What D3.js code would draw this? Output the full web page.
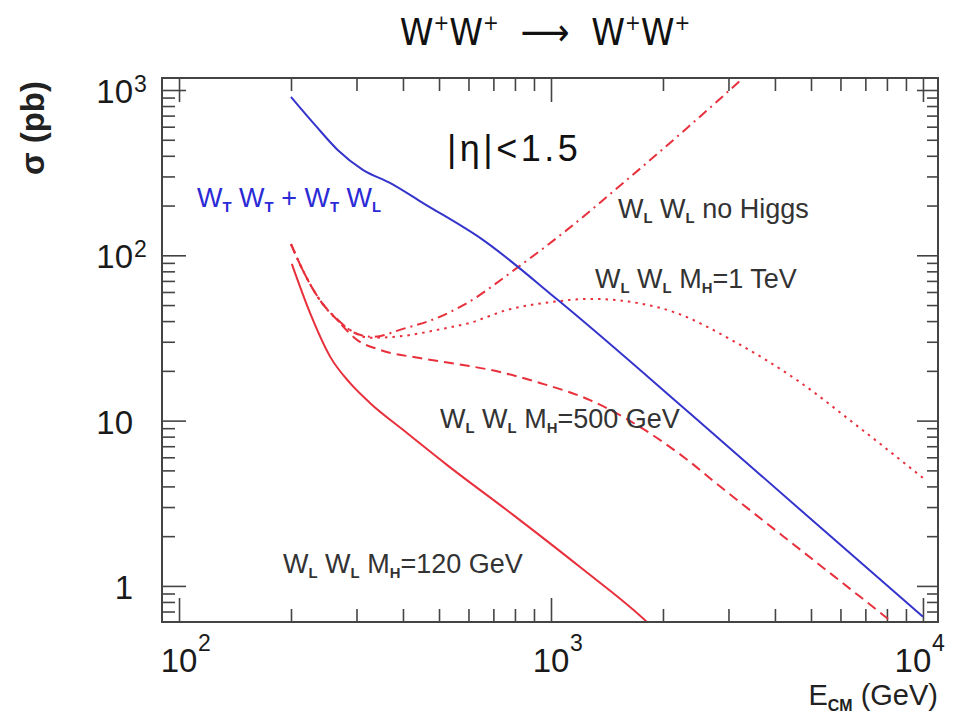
<!DOCTYPE html>
<html>
<head>
<meta charset="utf-8">
<script src="https://cdn.jsdelivr.net/npm/d3@7"></script>
<style>
  body { margin: 0; background: #fff; }
  text { font-family: "Liberation Sans", Arial, sans-serif; white-space: pre; }
</style>
</head>
<body>
<svg width="975" height="717"></svg>
<script>
// cross sections: [E_CM in GeV, sigma in pb]
const wtwt = [[200, 908], [232, 615], [267, 434], [312, 329], [369, 274], [453, 207],
  [656, 124], [1040, 54], [2370, 11], [4670, 2.9], [10000, 0.65]];
const mh120 = [[201, 88.7], [225, 44.8], [255, 24.3], [288, 16.9], [326, 12.8],
  [400, 8.8], [525, 5.4], [791, 2.69], [1197, 1.30], [1811, 0.605], [1965, 0.506]];
const mh500 = [[200, 117], [215, 81.6], [239, 53.7], [266, 40.7], [301, 30.8], [347, 26.8],
  [444, 23.9], [580, 21.7], [685, 20.3], [934, 16.9], [1273, 13.3], [1734, 9.16],
  [2323, 5.8], [2794, 4.14], [4207, 2.0], [6368, 0.96], [7798, 0.67], [8680, 0.55]];
const mh1000 = [[200, 117], [215, 81.6], [239, 53.7], [266, 40.7], [288, 35.4], [326, 31.7],
  [400, 32.5], [494, 35.4], [605, 39.0], [762, 46.7], [1012, 52.3], [1273, 54.5],
  [1562, 53], [2130, 45.5], [3126, 29.9], [4582, 17.6], [6776, 9.0], [10000, 4.5]];
const noHiggs = [[200, 117], [215, 81.6], [239, 53.7], [266, 41.2], [297, 33.9], [332, 32.1],
  [400, 35.9], [494, 41.8], [595, 51.5], [810, 83.9], [1104, 142.5], [1600, 286],
  [2323, 590], [3327, 1217], [3648, 1479]];

const xTickValues = [100, 1000, 10000];
const xTickLabels = [["10", "2"], ["10", "3"], ["10", "4"]];
const yTickValues = [1, 10, 100, 1000];
const yTickLabels = [["1", ""], ["10", ""], ["10", "2"], ["10", "3"]];

let svg = d3.select("svg"),
    margin = {top: 78, right: 37, bottom: 95, left: 162},
    width = +svg.attr("width") - margin.left - margin.right,
    height = +svg.attr("height") - margin.top - margin.bottom;

let x = d3.scaleLog().domain([90, 10975]).range([0, width]),
    y = d3.scaleLog().domain([0.605, 1182]).range([height, 0]);

let isPow = (v) => Math.abs(Math.log10(v) - Math.round(Math.log10(v))) < 1e-6;
let xMinor = x.ticks().filter((v) => !isPow(v) && v > 95);
let yMinor = y.ticks().filter((v) => !isPow(v));

let g = svg.append("g")
    .attr("transform", "translate(" + margin.left + "," + margin.top + ")");

g.append("clipPath").attr("id", "plot")
  .append("rect").attr("width", width).attr("height", height);

// ticks on all four sides, pointing inward
let tickAxis = (axis, vals, size, tr) => {
  g.append("g")
      .attr("transform", tr)
      .call(axis.tickValues(vals).tickSize(-size).tickFormat(""))
      .call((s) => s.select(".domain").remove())
      .selectAll("line").attr("stroke", "#444").attr("stroke-width", 1.6);
};
tickAxis(d3.axisBottom(x), xTickValues, 24, "translate(0," + height + ")");
tickAxis(d3.axisBottom(x), xMinor, 13, "translate(0," + height + ")");
tickAxis(d3.axisTop(x), xTickValues, 24, "translate(0,0)");
tickAxis(d3.axisTop(x), xMinor, 13, "translate(0,0)");
tickAxis(d3.axisLeft(y), yTickValues, 24, "translate(0,0)");
tickAxis(d3.axisLeft(y), yMinor, 13, "translate(0,0)");
tickAxis(d3.axisRight(y), yTickValues, 21, "translate(" + width + ",0)");
tickAxis(d3.axisRight(y), yMinor, 11, "translate(" + width + ",0)");

// tick labels with superscripts (the last one sits a bit to the left, as in the original)
xTickLabels.forEach((lab, i) => {
  let px = x(xTickValues[i]) - (i === xTickLabels.length - 1 ? 10 : 0);
  g.append("text").attr("x", px).attr("y", height + 50)
      .attr("text-anchor", "middle").attr("font-size", 33).attr("fill", "#1a1a1a")
      .text(lab[0]);
  g.append("text").attr("x", px + 19).attr("y", height + 29)
      .attr("font-size", 23).attr("fill", "#1a1a1a").text(lab[1]);
});
yTickLabels.forEach((lab, i) => {
  let py = y(yTickValues[i]);
  g.append("text").attr("x", -29).attr("y", py + 13)
      .attr("text-anchor", "end").attr("font-size", 33).attr("fill", "#1a1a1a")
      .text(lab[0]);
  if (lab[1]) g.append("text").attr("x", -28).attr("y", py + 2)
      .attr("font-size", 23).attr("fill", "#1a1a1a").text(lab[1]);
});

// curves
let line = d3.line()
    .x((d) => x(d[0]))
    .y((d) => y(d[1]))
    .curve(d3.curveMonotoneX);

let curves = g.append("g").attr("clip-path", "url(#plot)");
let red = "#e8303c", blue = "#3434cc";
[
  [noHiggs, red, "10,5,2,5"],
  [mh1000, red, "2.5,5"],
  [mh500, red, "10,6"],
  [mh120, red, null],
  [wtwt, blue, null]
].forEach(([data, color, dash]) => {
  curves.append("path")
      .datum(data)
      .attr("fill", "none")
      .attr("stroke", color)
      .attr("stroke-width", 2)
      .attr("stroke-dasharray", dash)
      .attr("d", line);
});

// frame
g.append("rect").attr("width", width).attr("height", height)
    .attr("fill", "none").attr("stroke", "#444").attr("stroke-width", 2);

// rich text: parts of [string, "n" | "sub" | "sup"]
let rich = (px, py, parts, size, fill, anchor, weight) => {
  let t = svg.append("text").attr("x", px).attr("y", py)
      .attr("font-size", size).attr("fill", fill)
      .attr("text-anchor", anchor || "start")
      .attr("font-weight", weight || null);
  let shift = 0;
  parts.forEach(([s, k]) => {
    let target = k === "sub" ? size * 0.2 : k === "sup" ? -size * 0.4 : 0;
    t.append("tspan")
        .attr("dy", target - shift)
        .attr("font-size", k === "n" ? size : size * 0.55)
        .attr("font-weight", k === "sub" ? "bold" : null)
        .text(s);
    shift = target;
  });
  return t;
};

let wl = [["W", "n"], ["L", "sub"], [" W", "n"], ["L", "sub"]];

rich(545, 45, [["W", "n"], ["+", "sup"], ["W", "n"], ["+", "sup"], ["  \u27F6  ", "n"],
  ["W", "n"], ["+", "sup"], ["W", "n"], ["+", "sup"]], 38, "#111", "middle")
  .style("font-family", "'Liberation Sans Narrow', 'DejaVu Sans Condensed', sans-serif");

rich(447, 161, [["|\u03B7|<1.5", "n"]], 36, "#111").attr("letter-spacing", 3.5);
rich(197, 207, [["W", "n"], ["T", "sub"], [" W", "n"], ["T", "sub"], [" + W", "n"], ["T", "sub"],
  [" W", "n"], ["L", "sub"]], 27, "#2b2bd6");
rich(618, 218, wl.concat([[" no Higgs", "n"]]), 27, "#333");
rich(595, 288, wl.concat([[" M", "n"], ["H", "sub"], ["=1 TeV", "n"]]), 27, "#333");
rich(440, 428, wl.concat([[" M", "n"], ["H", "sub"], ["=500 GeV", "n"]]), 27, "#333");
rich(283, 573, wl.concat([[" M", "n"], ["H", "sub"], ["=120 GeV", "n"]]), 27, "#333");

// axis titles
rich(938, 705, [["E", "n"], ["CM", "sub"], [" (GeV)", "n"]], 29, "#222", "end");
svg.append("text")
    .attr("transform", "translate(44,128) rotate(-90)")
    .attr("text-anchor", "middle")
    .attr("font-size", 33).attr("font-weight", "bold").attr("fill", "#222")
    .text("\u03C3 (pb)");
</script>
</body>
</html>
